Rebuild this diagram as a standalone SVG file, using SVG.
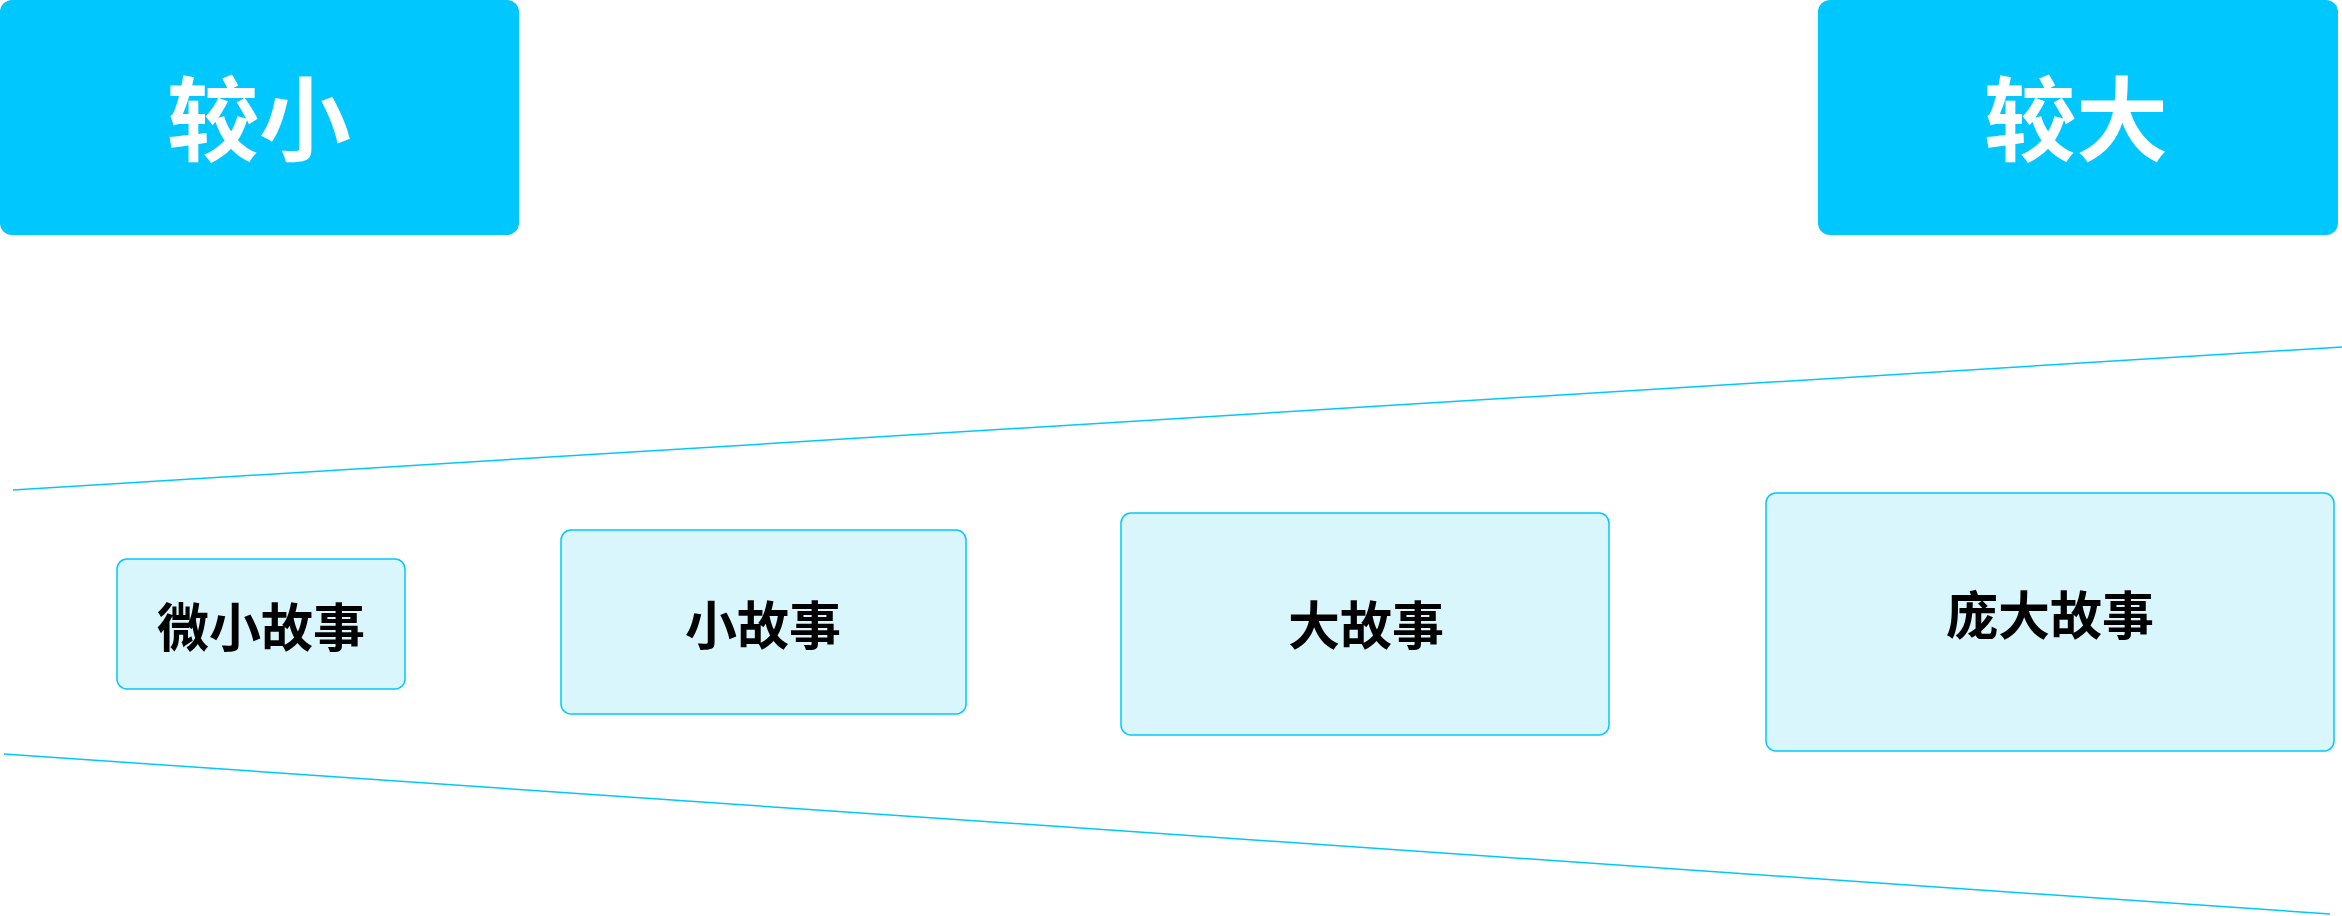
<svg xmlns="http://www.w3.org/2000/svg" width="2342" height="916" viewBox="0 0 2342 916">
<style>
.hd{fill:#00c8ff}
.hdt{fill:#fff;font-family:"Noto Sans CJK SC",sans-serif;font-size:92px;font-weight:bold;text-anchor:middle;dominant-baseline:central}
.bx{fill:#d9f6fd;stroke:#00c8ff;stroke-width:1.5}
.bt{fill:#000;font-family:"Noto Sans CJK SC",sans-serif;font-size:52px;font-weight:bold;text-anchor:middle;dominant-baseline:central}
.ln{stroke:#00c8ff;stroke-width:1.5;fill:none}
</style>
<rect width="2342" height="916" fill="#fff"/>
<g id="small"><rect class="hd" x="0" y="0" width="519" height="235" rx="12"/><text class="hdt" x="259" y="113">较小</text></g>
<g id="large"><rect class="hd" x="1818" y="0" width="520" height="235" rx="12"/><text class="hdt" x="2076" y="113">较大</text></g>
<g id="connectors">
<line class="ln" x1="13" y1="490" x2="2342" y2="347"/>
<line class="ln" x1="4" y1="754" x2="2330" y2="914"/>
</g>
<g id="n1"><rect class="bx" x="117" y="559" width="288" height="130" rx="10"/><text class="bt" x="261" y="624">微小故事</text></g>
<g id="n2"><rect class="bx" x="561" y="530" width="405" height="184" rx="10"/><text class="bt" x="763" y="622">小故事</text></g>
<g id="n3"><rect class="bx" x="1121" y="513" width="488" height="222" rx="10"/><text class="bt" x="1366" y="622">大故事</text></g>
<g id="n4"><rect class="bx" x="1766" y="493" width="568" height="258" rx="10"/><text class="bt" x="2050" y="612">庞大故事</text></g>
</svg>
